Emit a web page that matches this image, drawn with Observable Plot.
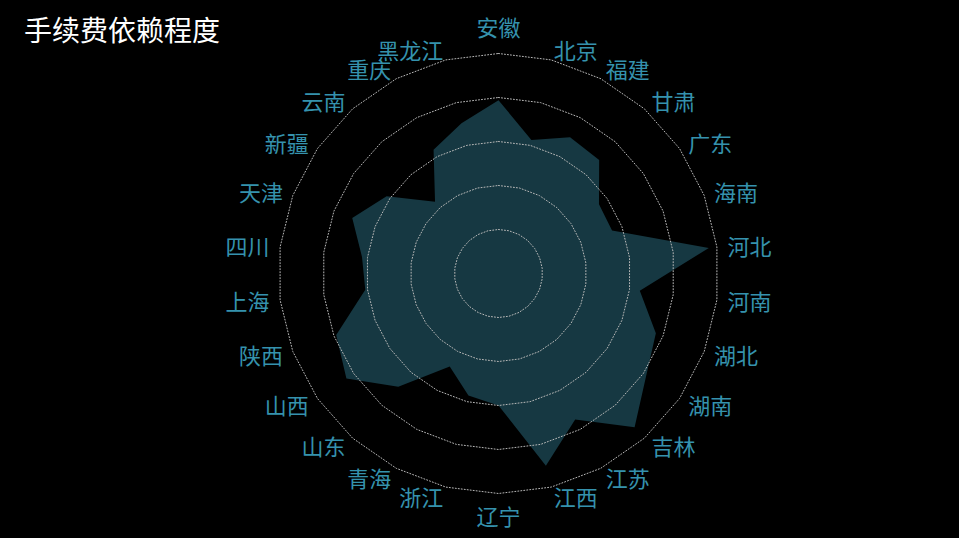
<!DOCTYPE html>
<html>
<head>
<meta charset="utf-8">
<script src="https://cdn.jsdelivr.net/npm/d3@7"></script>
<script src="https://cdn.jsdelivr.net/npm/@observablehq/plot@0.6"></script>
<style>
  html, body { margin: 0; padding: 0; background: #000; }
  #wrap { position: relative; width: 959px; height: 538px; background: #000; overflow: hidden; }
  #title { position: absolute; left: 24px; top: 10px; color: #fff; font-family: "Noto Sans CJK SC", sans-serif; font-size: 28px; line-height: 38px; }
  #chart { position: absolute; left: 0; top: 0; }
</style>
</head>
<body>
<div id="wrap">
  <div id="chart"></div>
  <div id="title">手续费依赖程度</div>
</div>
<script>
const categories = ["安徽","北京","福建","甘肃","广东","海南","河北","河南","湖北","湖南","吉林","江苏","江西","辽宁","浙江","青海","山东","山西","陕西","上海","四川","天津","新疆","云南","重庆","黑龙江"];
const values = [0.788,0.625,0.70,0.69,0.555,0.552,0.963,0.647,0.765,0.816,0.933,0.75,0.90,0.60,0.571,0.477,0.687,0.84,0.789,0.61,0.625,0.711,0.618,0.435,0.635,0.703];
const ringLevels = [0.2,0.4,0.6,0.8,1.0];

const n = categories.length;
const ang = i => i * 2 * Math.PI / n;

const rings = [];
ringLevels.forEach(r => {
  for (let i = 0; i <= n; i++) rings.push({ring: r, x: r * Math.sin(ang(i % n)), y: r * Math.cos(ang(i % n))});
});
const shape = [];
for (let i = 0; i <= n; i++) {
  const v = values[i % n];
  shape.push({x: v * Math.sin(ang(i % n)), y: v * Math.cos(ang(i % n))});
}
const LR = 1.048;
const labels = categories.map((c, i) => ({
  name: c, i,
  x: LR * Math.sin(ang(i)), y: LR * Math.cos(ang(i))
}));
const labelsTop = labels.filter(d => d.i === 0);
const labelsBottom = labels.filter(d => d.i === n / 2);
const labelsRight = labels.filter(d => d.i > 0 && d.i < n / 2);
const labelsLeft = labels.filter(d => d.i > n / 2);

const cx = 498, cy = 273, R = 220, W = 959, H = 538;
const font = "Noto Sans CJK SC";
const labelColor = "#3592ad";
const common = {x: "x", y: "y", text: "name", fill: labelColor, fontSize: 22, fontFamily: font};

const chart = Plot.plot({
  width: W, height: H,
  margin: 0,
  style: {background: "#000", fontFamily: font},
  x: {domain: [-cx / R, (W - cx) / R], axis: null},
  y: {domain: [-(H - cy) / R, cy / R], axis: null},
  marks: [
    Plot.line(shape, {x: "x", y: "y", fill: "#40a4c0", fillOpacity: 0.34, stroke: "none"}),
    Plot.line(rings, {x: "x", y: "y", z: "ring", stroke: "#b8b8b8", strokeWidth: 1, strokeDasharray: "1,2", curve: "linear"}),
    Plot.text(labelsTop, {...common, textAnchor: "middle", lineAnchor: "bottom", dy: -7}),
    Plot.text(labelsBottom, {...common, textAnchor: "middle", lineAnchor: "top", dy: 5}),
    Plot.text(labelsRight, {...common, textAnchor: "start", lineAnchor: "middle", dy: 2}),
    Plot.text(labelsLeft, {...common, textAnchor: "end", lineAnchor: "middle", dy: 2})
  ]
});
document.getElementById("chart").appendChild(chart);
</script>
</body>
</html>
